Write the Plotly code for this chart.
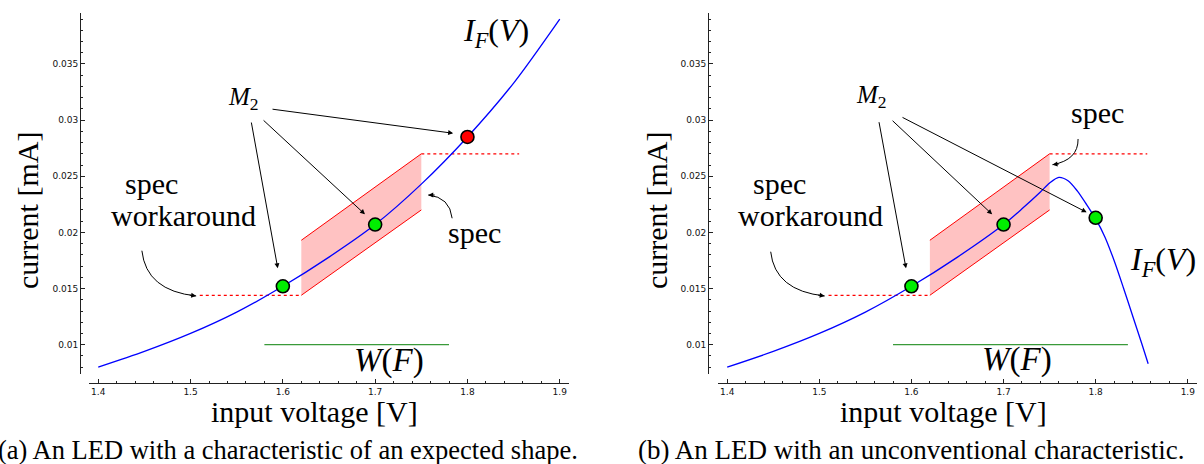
import plotly.graph_objects as go

# ---- data -------------------------------------------------------------
# forward current curve of a normal LED (panel a)
v_a = [1.40, 1.45, 1.50, 1.55, 1.60, 1.65, 1.70, 1.75, 1.80, 1.85, 1.90]
i_a = [0.0080, 0.0094, 0.0110, 0.0129, 0.0152, 0.0178, 0.0207, 0.0243, 0.0285, 0.0333, 0.0390]

# forward current curve of the unconventional LED (panel b)
v_b = [1.40, 1.45, 1.50, 1.55, 1.60, 1.65, 1.70, 1.72, 1.74, 1.75, 1.76, 1.77,
       1.78, 1.79, 1.80, 1.81, 1.82, 1.83, 1.84, 1.85, 1.857]
i_b = [0.0080, 0.0094, 0.0110, 0.0129, 0.0152, 0.0178, 0.0207, 0.0221, 0.0236, 0.0244,
       0.0249, 0.0246, 0.0237, 0.0225, 0.0212, 0.0196, 0.0175, 0.0151, 0.0126, 0.0101, 0.0083]

# measured points M2
m2_v_a = [1.60, 1.70]
m2_i_a = [0.0152, 0.0207]
bad_v_a = [1.80]
bad_i_a = [0.0285]
m2_v_b = [1.60, 1.70, 1.80]
m2_i_b = [0.0152, 0.0207, 0.0213]

# specification band
spec_v = [1.62, 1.75]
spec_lo = [0.0144, 0.0220]
spec_hi = [0.0193, 0.0270]
work_v = [1.51, 1.62]
work_i = [0.0144, 0.0144]
top_v = [1.75, 1.856]
top_i = [0.0270, 0.0270]

# window W(F)
w_v_a = [1.58, 1.78]
w_v_b = [1.58, 1.835]
w_i = [0.01, 0.01]

x_ticks = [1.4, 1.5, 1.6, 1.7, 1.8, 1.9]
x_labels = ["1.4", "1.5", "1.6", "1.7", "1.8", "1.9"]
y_ticks = [0.01, 0.015, 0.02, 0.025, 0.03, 0.035]
y_labels = ["0.01", "0.015", "0.02", "0.025", "0.03", "0.035"]

# ---- layout geometry ---------------------------------------------------
W, H = 1204, 464
SERIF = "Liberation Serif, DejaVu Serif, serif"
SANS = "DejaVu Sans"
BLUE = "#0000ff"
RED = "#ff0000"
PINK = "rgba(255,0,0,0.24)"
GREEN_LINE = "#3a9a3a"
GREEN_DOT = "#00ee00"

fig = go.Figure()


def panel(xa, ya, v, i, pts_v, pts_i, w_v, bad=None):
    # spec band: lower edge, then upper edge filled down to it
    fig.add_trace(go.Scatter(x=spec_v, y=spec_lo, mode="lines",
                             line=dict(color=RED, width=1), xaxis=xa, yaxis=ya))
    fig.add_trace(go.Scatter(x=spec_v, y=spec_hi, mode="lines", fill="tonexty",
                             fillcolor=PINK, line=dict(color=RED, width=1),
                             xaxis=xa, yaxis=ya))
    fig.add_trace(go.Scatter(x=work_v, y=work_i, mode="lines",
                             line=dict(color=RED, width=1.2, dash="dot"),
                             xaxis=xa, yaxis=ya))
    fig.add_trace(go.Scatter(x=top_v, y=top_i, mode="lines",
                             line=dict(color=RED, width=1.2, dash="dot"),
                             xaxis=xa, yaxis=ya))
    fig.add_trace(go.Scatter(x=w_v, y=w_i, mode="lines",
                             line=dict(color=GREEN_LINE, width=1.2),
                             xaxis=xa, yaxis=ya))
    fig.add_trace(go.Scatter(x=v, y=i, mode="lines",
                             line=dict(color=BLUE, width=1.3, shape="spline", smoothing=0.8),
                             xaxis=xa, yaxis=ya))
    fig.add_trace(go.Scatter(x=pts_v, y=pts_i, mode="markers",
                             marker=dict(size=13, color=GREEN_DOT,
                                         line=dict(color="black", width=1.6)),
                             xaxis=xa, yaxis=ya, cliponaxis=False))
    if bad:
        fig.add_trace(go.Scatter(x=bad[0], y=bad[1], mode="markers",
                                 marker=dict(size=13, color=RED,
                                             line=dict(color="black", width=1.6)),
                                 xaxis=xa, yaxis=ya, cliponaxis=False))


panel("x", "y", v_a, i_a, m2_v_a, m2_i_a, w_v_a, bad=(bad_v_a, bad_i_a))
panel("x2", "y2", v_b, i_b, m2_v_b, m2_i_b, w_v_b)

y_dom = [1 - 374 / H, 1 - 13 / H]
x_pos = 1 - 383 / H


def xaxis(dom):
    return dict(domain=dom, range=[1.39, 1.91], anchor="free", position=x_pos,
                showgrid=False, zeroline=False, showline=True, linecolor="#222",
                linewidth=1, ticks="inside", ticklen=4, tickcolor="#222",
                tickvals=x_ticks, ticktext=x_labels,
                tickfont=dict(family=SANS, size=9, color="#111"),
                minor=dict(tick0=1.4, dtick=0.02, ticks="inside", ticklen=2,
                           tickcolor="#222", showgrid=False))


def yaxis(pos):
    return dict(domain=y_dom, range=[0.00739, 0.03954], anchor="free", position=pos,
                showgrid=False, zeroline=False, showline=True, linecolor="#222",
                linewidth=1, ticks="inside", ticklen=4, tickcolor="#222",
                tickvals=y_ticks, ticktext=y_labels,
                tickfont=dict(family=SANS, size=9, color="#111"),
                minor=dict(tick0=0, dtick=0.001, ticks="inside", ticklen=2,
                           tickcolor="#222", showgrid=False))


fig.update_layout(
    width=W, height=H, margin=dict(l=0, r=0, t=0, b=0),
    paper_bgcolor="white", plot_bgcolor="white", showlegend=False,
    xaxis=xaxis([89 / W, 569 / W]), yaxis=yaxis(80 / W),
    xaxis2=xaxis([718 / W, 1197 / W]), yaxis2=yaxis(708 / W),
)

anns = []
shapes = []


def text(xr, yr, x, y, s, size=30, **kw):
    anns.append(dict(xref=xr, yref=yr, x=x, y=y, text=s, showarrow=False,
                     xanchor="center", yanchor="middle",
                     font=dict(family=SERIF, size=size, color="black"), **kw))


def arrow(xr, yr, tail, head):
    anns.append(dict(xref=xr, yref=yr, axref=xr, ayref=yr, x=head[0], y=head[1],
                     ax=tail[0], ay=tail[1], text="", showarrow=True, arrowhead=2,
                     arrowsize=1, arrowwidth=1, arrowcolor="black", standoff=0))


def curved(xr, yr, start, ctrl, end, tip):
    shapes.append(dict(type="path", xref=xr, yref=yr, line=dict(color="black", width=1),
                       path=f"M {start[0]},{start[1]} Q {ctrl[0]},{ctrl[1]} {end[0]},{end[1]}"))
    anns.append(dict(xref=xr, yref=yr, x=end[0], y=end[1], ax=tip[0], ay=tip[1],
                     text="", showarrow=True, arrowhead=2, arrowsize=1, arrowwidth=1,
                     arrowcolor="black", standoff=0))


M2 = "<i>M</i><sub>2</sub>"
IF = "<i>I</i><sub><i>F</i></sub>(<i>V</i>)"
WF = "<i>W</i>(<i>F</i>)"

# panel (a)
text("x", "y", 1.8307, 0.03776, IF, size=32)
text("x", "y", 1.5569, 0.03197, M2, size=25)
arrow("x", "y", (1.5872, 0.03099), (1.7845, 0.02883))
arrow("x", "y", (1.5775, 0.0301), (1.6890, 0.02161))
arrow("x", "y", (1.5656, 0.02992), (1.5945, 0.0168))
text("x", "y", 1.4574, 0.0244, "spec")
text("x", "y", 1.4920, 0.02155, "workaround")
curved("x", "y", (1.4473, 0.01837), (1.4520, 0.01480), (1.5061, 0.01434), (-8, -1))
text("x", "y", 1.808, 0.0200, "spec")
curved("x", "y", (1.7834, 0.02126), (1.7810, 0.02314), (1.7575, 0.02333), (8, 0))
text("x", "y", 1.7149, 0.00855, WF, size=33)

# panel (b)
text("x2", "y2", 1.5566, 0.03206, M2, size=25)
arrow("x2", "y2", (1.5645, 0.02995), (1.5941, 0.0168))
arrow("x2", "y2", (1.5779, 0.03007), (1.6876, 0.02161))
arrow("x2", "y2", (1.5887, 0.03031), (1.7902, 0.02179))
text("x2", "y2", 1.8017, 0.03064, "spec")
curved("x2", "y2", (1.7809, 0.02832), (1.7812, 0.02645), (1.7531, 0.02603), (8, -1))
text("x2", "y2", 1.4572, 0.0244, "spec")
text("x2", "y2", 1.4907, 0.02155, "workaround")
curved("x2", "y2", (1.4472, 0.01828), (1.4518, 0.01480), (1.5058, 0.01434), (-8, -1))
text("x2", "y2", 1.873, 0.01745, IF, size=32)
text("x2", "y2", 1.7143, 0.00864, WF, size=33)

# axis titles and captions in paper coordinates
for cx in (28, 657):
    text("paper", "paper", cx / W, 1 - 211 / H, "current [mA]", textangle=-90)
for cx in (314, 943):
    text("paper", "paper", cx / W, 1 - 411 / H, "input voltage [V]")
text("paper", "paper", 288 / W, 1 - 450 / H,
     "(a) An LED with a characteristic of an expected shape.", size=26.5)
text("paper", "paper", 911 / W, 1 - 450 / H,
     "(b) An LED with an unconventional characteristic.", size=27)

fig.update_layout(annotations=anns, shapes=shapes)
fig.write_html("out.html")
